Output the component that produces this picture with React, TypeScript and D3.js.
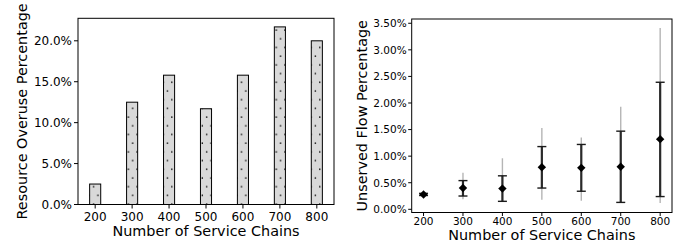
import React from "react";
import * as d3 from "d3";

const categories = [200, 300, 400, 500, 600, 700, 800];
const overuse = [2.5, 12.5, 15.8, 11.7, 15.8, 21.7, 20.0];
const overuseTicks = [0, 5, 10, 15, 20];

const unservedMean = [0.28, 0.4, 0.39, 0.79, 0.78, 0.8, 1.32];
const stdLow = [0.26, 0.25, 0.15, 0.4, 0.34, 0.13, 0.24];
const stdHigh = [0.3, 0.54, 0.63, 1.18, 1.22, 1.47, 2.39];
const rangeLow = [0.26, 0.19, 0.15, 0.18, 0.16, 0.13, 0.12];
const rangeHigh = [0.3, 0.69, 0.96, 1.53, 1.35, 1.93, 3.41];
const unservedTicks = [0, 0.5, 1, 1.5, 2, 2.5, 3, 3.5];

const FONT = "DejaVu Sans, Verdana, sans-serif";

export default function App() {
  // Left panel
  const L = { x0: 78, x1: 334, y0: 18.3, y1: 204.5 };
  const xL = d3.scaleLinear().domain([-0.465, 6.465]).range([L.x0, L.x1]);
  const yL = d3.scaleLinear().domain([0, 22.75]).range([L.y1, L.y0]);
  const barW = xL(0.3) - xL(0);

  // Right panel
  const R = { x0: 411.7, x1: 672, y0: 19, y1: 212.5 };
  const xR = d3.scaleLinear().domain([170, 830]).range([R.x0, R.x1]);
  const yR = d3.scaleLinear().domain([-0.06, 3.58]).range([R.y1, R.y0]);

  const fmt1 = (v: number) => d3.format(".1f")(v) + "%";
  const fmt2 = (v: number) => d3.format(".2f")(v) + "%";
  const cap = 4.5;
  const diamond = (cx: number, cy: number, r: number) =>
    `M${cx},${cy - r}L${cx + r},${cy}L${cx},${cy + r}L${cx - r},${cy}Z`;

  return (
    <svg
      width={688}
      height={245}
      style={{ position: "absolute", left: 0, top: 0, background: "#fff" }}
      fontFamily={FONT}
    >
      <defs>
        <pattern id="dots" patternUnits="userSpaceOnUse" width={8.7} height={17.4}>
          <rect width={8.7} height={17.4} fill="#d9d9d9" />
          <circle cx={2.2} cy={4} r={0.75} fill="#000" />
          <circle cx={6.55} cy={12.7} r={0.75} fill="#000" />
        </pattern>
      </defs>
      <rect width={688} height={245} fill="#fff" />

      {/* Left panel bars */}
      {categories.map((c, i) => (
        <rect
          key={c}
          x={xL(i) - barW / 2}
          y={yL(overuse[i])}
          width={barW}
          height={yL(0) - yL(overuse[i])}
          fill="url(#dots)"
          stroke="#000"
          strokeWidth={1}
        />
      ))}
      <rect x={L.x0} y={L.y0} width={L.x1 - L.x0} height={L.y1 - L.y0} fill="none" stroke="#000" strokeWidth={1} />
      {overuseTicks.map((t) => (
        <g key={t}>
          <line x1={L.x0 - 4} x2={L.x0} y1={yL(t)} y2={yL(t)} stroke="#000" />
          <text x={L.x0 - 6} y={yL(t)} dy="0.36em" textAnchor="end" fontSize={12} fill="#000">
            {fmt1(t)}
          </text>
        </g>
      ))}
      {categories.map((c, i) => (
        <g key={c}>
          <line x1={xL(i)} x2={xL(i)} y1={L.y1} y2={L.y1 + 4} stroke="#000" />
          <text x={xL(i)} y={220.5} textAnchor="middle" fontSize={12} fill="#000">
            {c}
          </text>
        </g>
      ))}
      <text x={(L.x0 + L.x1) / 2} y={236} textAnchor="middle" fontSize={14.4} fill="#000">
        Number of Service Chains
      </text>
      <text
        transform={`translate(27,${(L.y0 + L.y1) / 2}) rotate(-90)`}
        textAnchor="middle"
        fontSize={14.4}
        fill="#000"
      >
        Resource Overuse Percentage
      </text>

      {/* Right panel */}
      {categories.map((c, i) => (
        <g key={c}>
          <line x1={xR(c)} x2={xR(c)} y1={yR(rangeLow[i])} y2={yR(rangeHigh[i])} stroke="#b5b5b5" strokeWidth={1.4} />
          <line x1={xR(c)} x2={xR(c)} y1={yR(stdLow[i])} y2={yR(stdHigh[i])} stroke="#2a2a2a" strokeWidth={2.2} />
          <line x1={xR(c) - cap} x2={xR(c) + cap} y1={yR(stdLow[i])} y2={yR(stdLow[i])} stroke="#1a1a1a" strokeWidth={1.4} />
          <line x1={xR(c) - cap} x2={xR(c) + cap} y1={yR(stdHigh[i])} y2={yR(stdHigh[i])} stroke="#1a1a1a" strokeWidth={1.4} />
          <path d={diamond(xR(c), yR(unservedMean[i]), 4.2)} fill="#000" />
        </g>
      ))}
      <rect x={R.x0} y={R.y0} width={R.x1 - R.x0} height={R.y1 - R.y0} fill="none" stroke="#000" strokeWidth={1} />
      {unservedTicks.map((t) => (
        <g key={t}>
          <line x1={R.x0 - 3.5} x2={R.x0} y1={yR(t)} y2={yR(t)} stroke="#000" />
          <text x={R.x0 - 5} y={yR(t)} dy="0.36em" textAnchor="end" fontSize={10.5} fill="#000">
            {fmt2(t)}
          </text>
        </g>
      ))}
      {categories.map((c) => (
        <g key={c}>
          <line x1={xR(c)} x2={xR(c)} y1={R.y1} y2={R.y1 + 3.5} stroke="#000" />
          <text x={xR(c)} y={224.5} textAnchor="middle" fontSize={10.5} fill="#000">
            {c}
          </text>
        </g>
      ))}
      <text x={(R.x0 + R.x1) / 2} y={240} textAnchor="middle" fontSize={14.4} fill="#000">
        Number of Service Chains
      </text>
      <text
        transform={`translate(367,${(R.y0 + R.y1) / 2}) rotate(-90)`}
        textAnchor="middle"
        fontSize={14.4}
        fill="#000"
      >
        Unserved Flow Percentage
      </text>
    </svg>
  );
}
